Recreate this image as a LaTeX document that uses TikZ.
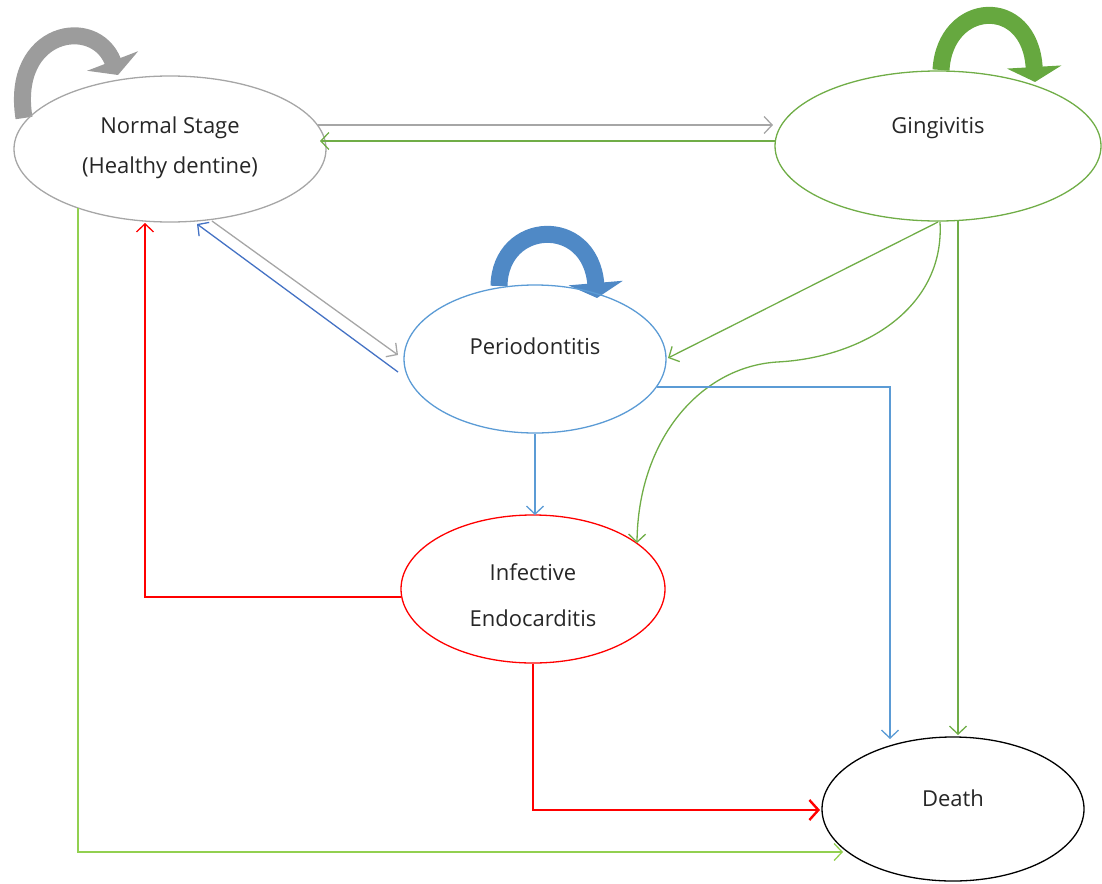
\documentclass[tikz,border=0pt]{standalone}
\usepackage{fontspec}
\setmainfont{Open Sans}
\usetikzlibrary{shapes.geometric,arrows.meta,calc}
\definecolor{cgray}{HTML}{A6A6A6}
\definecolor{cgreen}{HTML}{70AD47}
\definecolor{clgreen}{HTML}{92D050}
\definecolor{cblue}{HTML}{5B9BD5}
\definecolor{cdblue}{HTML}{4472C4}
\definecolor{cred}{HTML}{FF0000}
\definecolor{lgray}{HTML}{9C9C9C}
\definecolor{lgreen}{HTML}{66A83F}
\definecolor{lblue}{HTML}{4F89C6}
\pgfdeclarelayer{background}
\pgfsetlayers{background,main}
\begin{document}
\begin{tikzpicture}[x=1pt,y=-1pt,
  state/.style={ellipse,draw,line width=1.3pt,inner sep=0pt},
  txt/.style={anchor=base,font=\fontsize{22}{26}\selectfont,text=black!85},
  conn/.style={line width=1.3pt,-{Straight Barb[length=8pt,width=17pt,line width=1.3pt]}},
  loopar/.style={line width=17pt,-{Triangle[length=15pt,width=54pt]}}]
\useasboundingbox (0,0) rectangle (1102,883);

% states
\node[state,draw=cgray,minimum width=312pt,minimum height=146pt] (N) at (170,149) {};
\node[state,draw=cgreen,minimum width=326pt,minimum height=150pt] (G) at (938,146) {};
\node[state,draw=cblue,minimum width=262pt,minimum height=148pt] (P) at (535,359) {};
\node[state,draw=cred,minimum width=264pt,minimum height=148pt] (I) at (533,589) {};
\node[state,draw=black,minimum width=262pt,minimum height=144pt] (D) at (953,809) {};

% labels
\node[txt] (tN1) at (170,133) {Normal Stage};
\node[txt] (tN2) at (170,173) {(Healthy dentine)};
\node[txt] (tG) at (938,133) {Gingivitis};
\node[txt] (tP) at (535,354) {Periodontitis};
\node[txt] (tI1) at (533,580) {Infective};
\node[txt] (tI2) at (533,626) {Endocarditis};
\node[txt] (tD) at (953,806) {Death};

% self loops
\begin{pgfonlayer}{background}
\draw[loopar,lgray] ($(N.center)+(-146,-31)$) .. controls ($(N.center)+(-160,-119)$) and ($(N.center)+(-75,-134)$) .. ($(N.center)+(-52,-74)$);
\draw[loopar,lgreen] ($(G.center)+(3,-76)$) .. controls ($(G.center)+(7,-146)$) and ($(G.center)+(92,-151)$) .. ($(G.center)+(97,-64)$);
\draw[loopar,lblue] ($(P.center)+(-36,-73)$) .. controls ($(P.center)+(-35,-139)$) and ($(P.center)+(55,-144)$) .. ($(P.center)+(62,-61)$);
\end{pgfonlayer}

% connectors
\draw[conn,cgray] ($(N.center)+(148,-24)$) -- ($(G.center)+(-165,-21)$);
\draw[conn,cgreen] ($(G.center)+(-163,-5)$) -- ($(N.center)+(150,-8)$);
\draw[conn,cgray] ($(N.center)+(42,72)$) -- ($(P.center)+(-137,-4)$);
\draw[conn,cdblue] ($(P.center)+(-137,13)$) -- ($(N.center)+(27,75)$);
\draw[conn,cgreen] ($(G.center)+(0,76)$) -- ($(P.center)+(133,-1)$);
\draw[conn,cgreen] ($(G.center)+(2,76)$) .. controls (945,310) and (860,358) .. (777,362)
  .. controls (700,367) and (638,440) .. ($(I.center)+(104,-46)$);
\draw[conn,cgreen] ($(G.center)+(20,74)$) -- ($(D.center)+(5,-74)$);
\draw[conn,cblue] ($(P.center)+(122,28)$) -| ($(D.center)+(-63,-70)$);
\draw[conn,cblue] (P.south) -- ($(I.center)+(2,-74)$);
\draw[conn,cred] ($(I.center)+(-132,8)$) -| ($(N.center)+(-25,74)$);
\draw[cred,line width=2.4pt,-{Straight Barb[length=9pt,width=20pt,line width=2.4pt]}] (I.south) |- ($(D.center)+(-133,1)$);
\draw[conn,clgreen] ($(N.center)+(-92,59)$) |- ($(D.center)+(-110,43)$);
\end{tikzpicture}
\end{document}
